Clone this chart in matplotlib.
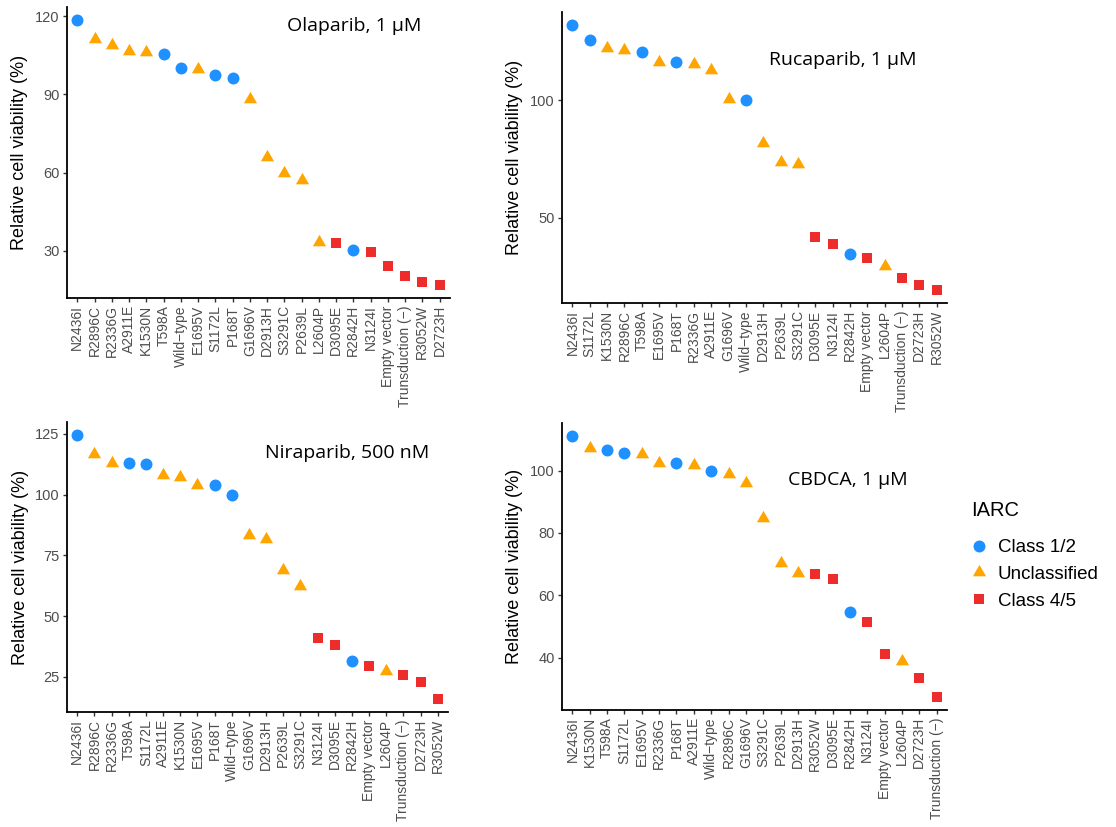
import matplotlib
matplotlib.use("Agg")
import matplotlib.pyplot as plt
from matplotlib.lines import Line2D
from matplotlib.path import Path

plt.rcParams['font.family'] = ['Liberation Sans', 'DejaVu Sans']

# IARC class of each variant (everything else is unclassified)
class_1_2 = ["N2436I", "T598A", "Wild\u2212type", "S1172L", "P168T", "R2842H"]
class_4_5 = ["D3095E", "N3124I", "Empty vector", "Trunsduction (\u2212)", "R3052W", "D2723H"]

ola_labels = ["N2436I", "R2896C", "R2336G", "A2911E", "K1530N", "T598A", "Wild\u2212type",
              "E1695V", "S1172L", "P168T", "G1696V", "D2913H", "S3291C", "P2639L", "L2604P",
              "D3095E", "R2842H", "N3124I", "Empty vector", "Trunsduction (\u2212)", "R3052W", "D2723H"]
ola_values = [118.5, 111.2, 108.9, 106.6, 106.1, 105.5, 100.0, 99.6, 97.3, 96.5, 88.1,
              66.1, 59.7, 57.1, 33.5, 32.9, 30.3, 29.5, 24.1, 20.4, 18.2, 17.0]

ruca_labels = ["N2436I", "S1172L", "K1530N", "R2896C", "T598A", "E1695V", "P168T", "R2336G",
               "A2911E", "G1696V", "Wild\u2212type", "D2913H", "P2639L", "S3291C", "D3095E",
               "N3124I", "R2842H", "Empty vector", "L2604P", "Trunsduction (\u2212)", "D2723H", "R3052W"]
ruca_values = [132.0, 125.6, 122.4, 121.4, 120.6, 116.3, 116.3, 115.4, 113.0, 100.7, 100.0,
               81.8, 73.8, 73.1, 41.8, 38.9, 34.8, 33.0, 29.4, 24.6, 21.5, 19.4]

nira_labels = ["N2436I", "R2896C", "R2336G", "T598A", "S1172L", "A2911E", "K1530N", "E1695V",
               "P168T", "Wild\u2212type", "G1696V", "D2913H", "P2639L", "S3291C", "N3124I",
               "D3095E", "R2842H", "Empty vector", "L2604P", "Trunsduction (\u2212)", "D2723H", "R3052W"]
nira_values = [124.5, 116.8, 113.1, 113.0, 112.6, 107.9, 107.3, 104.1, 104.1, 100.0, 83.5,
               81.8, 68.9, 62.6, 41.0, 38.3, 31.7, 29.3, 27.3, 25.7, 23.0, 16.0]

cbdca_labels = ["N2436I", "K1530N", "T598A", "S1172L", "E1695V", "R2336G", "P168T", "A2911E",
                "Wild\u2212type", "R2896C", "G1696V", "S3291C", "P2639L", "D2913H", "R3052W",
                "D3095E", "R2842H", "N3124I", "Empty vector", "L2604P", "D2723H", "Trunsduction (\u2212)"]
cbdca_values = [111.1, 107.4, 106.7, 105.7, 105.3, 102.6, 102.3, 101.9, 100.0, 99.0, 95.9,
                84.9, 70.4, 67.1, 66.9, 65.1, 54.6, 51.5, 41.3, 39.0, 33.4, 27.4]

titles = ["Olaparib, 1 \u00b5M", "Rucaparib, 1 \u00b5M", "Niraparib, 500 nM", "CBDCA, 1 \u00b5M"]
yticks = [[30, 60, 90, 120], [50, 100], [25, 50, 75, 100, 125], [40, 60, 80, 100]]

legend_names = ["Class 1/2", "Unclassified", "Class 4/5"]
colors = {"Class 1/2": "#1E90FF", "Unclassified": "#FFA500", "Class 4/5": "#EE2C2C"}

# triangle centred on its centroid, like R's pch 17
tri = Path([(0, 1), (-0.866, -0.5), (0.866, -0.5), (0, 1)],
           [Path.MOVETO, Path.LINETO, Path.LINETO, Path.CLOSEPOLY])
markers = {"Class 1/2": ("o", 8.6), "Unclassified": (tri, 11.0), "Class 4/5": ("s", 7.4)}


def iarc(label):
    if label in class_1_2:
        return "Class 1/2"
    if label in class_4_5:
        return "Class 4/5"
    return "Unclassified"


def painel(ax, labels, values, title, ticks, title_pos):
    n = len(labels)
    for i in range(n):
        c = iarc(labels[i])
        mk, ms = markers[c]
        ax.plot(i, values[i], marker=mk, markersize=ms, color=colors[c],
                markeredgewidth=0, linestyle="none")
    lo, hi = min(values), max(values)
    pad = (hi - lo) * 0.05
    ax.set_ylim(lo - pad, hi + pad)
    ax.set_xlim(-0.6, n - 1 + 0.6)
    ax.set_xticks(range(n))
    ax.set_xticklabels(labels, rotation=90, fontsize=10, color="#4D4D4D")
    ax.set_yticks(ticks)
    ax.tick_params(axis="y", labelsize=10.5, labelcolor="#4D4D4D")
    ax.tick_params(color="#333333", width=1.0, length=3.2, pad=2)
    for s in ["top", "right"]:
        ax.spines[s].set_visible(False)
    for s in ["left", "bottom"]:
        ax.spines[s].set_linewidth(1.3)
        ax.spines[s].set_color("black")
    ax.set_ylabel("Relative cell viability (%)", fontsize=13)
    ax.yaxis.set_label_coords(-0.123, 0.5)
    ax.yaxis.label.set_va("center")
    ax.text(title_pos[0], title_pos[1], title, transform=ax.transAxes, ha="center",
            va="center", fontsize=14, family=["Open Sans", "DejaVu Sans"])


fig = plt.figure(figsize=(11.16, 8.27), dpi=100)
ax1 = fig.add_axes([0.0600, 0.6397, 0.3432, 0.3519])
ax2 = fig.add_axes([0.5036, 0.6336, 0.3450, 0.3519])
ax3 = fig.add_axes([0.0600, 0.1391, 0.3414, 0.3507])
ax4 = fig.add_axes([0.5036, 0.1415, 0.3450, 0.3470])

painel(ax1, ola_labels, ola_values, titles[0], yticks[0], (0.749, 0.935))
painel(ax2, ruca_labels, ruca_values, titles[1], yticks[1], (0.730, 0.835))
painel(ax3, nira_labels, nira_values, titles[2], yticks[2], (0.735, 0.893))
painel(ax4, cbdca_labels, cbdca_values, titles[3], yticks[3], (0.743, 0.801))

# legend: title as separate text so its gap to the keys can be set
fig.text(0.8705, 1 - 511 / 827, "IARC", ha="left", va="center", fontsize=14.5)
handles = []
for nome in legend_names:
    mk, ms = markers[nome]
    handles.append(Line2D([], [], marker=mk, markersize=ms, color=colors[nome],
                          markeredgewidth=0, linestyle="none"))
leg = fig.legend(handles, legend_names, loc="upper left",
                 bbox_to_anchor=(0.868, 1 - 539 / 827), frameon=False, fontsize=13.5,
                 handletextpad=0.45, labelspacing=0.52, handlelength=1.1,
                 borderaxespad=0, borderpad=0)

fig.savefig("out.png", dpi=100)
